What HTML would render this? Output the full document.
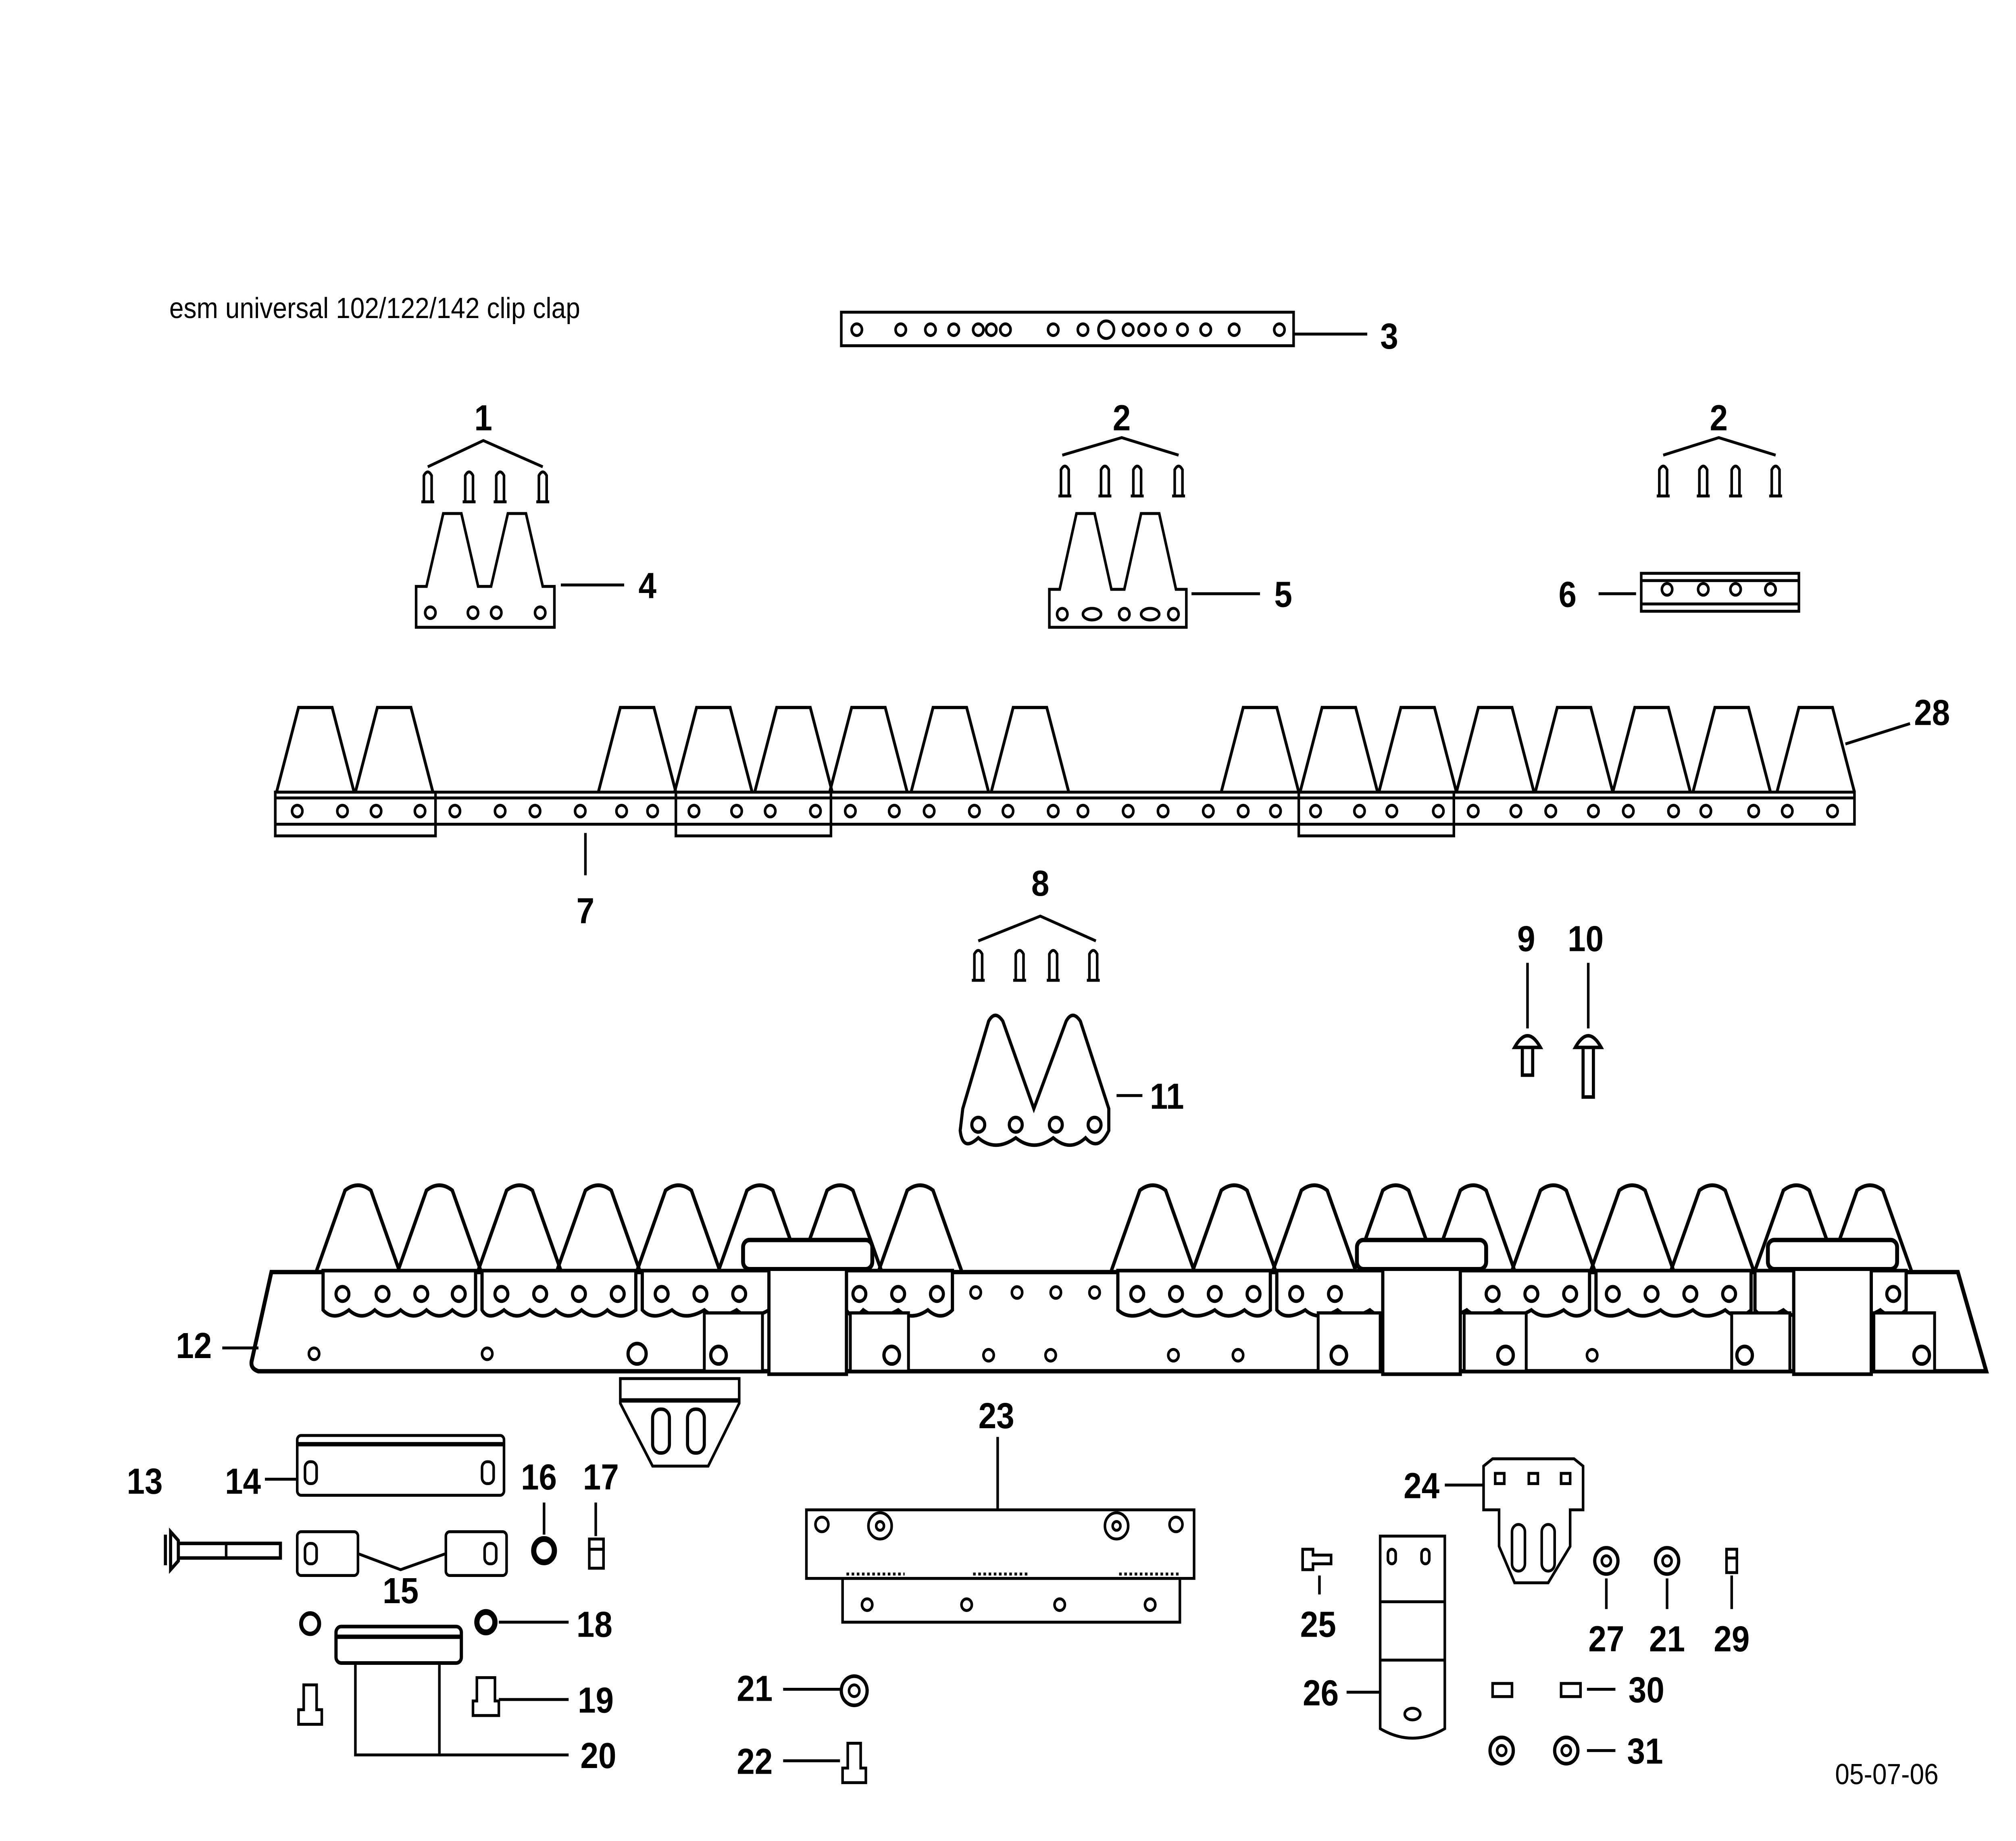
<!DOCTYPE html>
<html><head><meta charset="utf-8">
<style>
html,body{margin:0;padding:0;background:#fff;overflow:hidden;width:100%;height:100%;}
svg{display:block;position:fixed;left:0;top:0;width:100vw;height:100vh;}
.n{font-family:"Liberation Sans",sans-serif;font-weight:bold;font-size:25px;fill:#000;text-anchor:middle;}
</style></head>
<body>
<svg viewBox="0 0 1560 1262" preserveAspectRatio="none" xmlns="http://www.w3.org/2000/svg">
<defs>
<path id="t" d="M-30,58 L-13,0 L13,0 L30,58" fill="none" stroke="#000" stroke-width="2.2"/>
<path id="rt" d="M-32,58 L-10,3 Q0,-4 10,3 L32,58" fill="none" stroke="#000" stroke-width="2.6"/>
<circle id="h" r="4" fill="none" stroke="#000" stroke-width="2"/>
<circle id="h2" r="5" fill="none" stroke="#000" stroke-width="2.4"/>
<g id="pin"><path d="M-3,22 L-3,4 Q0,-1 3,4 L3,22 M-5,22 L5,22" fill="none" stroke="#000" stroke-width="2"/></g>
<g id="clamp">
<rect x="0" y="0" width="100" height="20" rx="5" fill="#fff" stroke="#000" stroke-width="3"/>
<rect x="20" y="20" width="60" height="72" fill="#fff" stroke="#000" stroke-width="2.5"/>
</g>
</defs>
<rect width="1560" height="1262" fill="#fff"/>
<g fill="none" stroke="#000" stroke-width="2">
<text x="131" y="218" font-family="Liberation Sans,sans-serif" font-size="20" fill="#000" stroke="none">esm universal 102/122/142 clip clap</text>
<rect x="651" y="214" width="350" height="23"/>
<g><use href="#h" x="663" y="226"/><use href="#h" x="697" y="226"/><use href="#h" x="720" y="226"/><use href="#h" x="738" y="226"/><use href="#h" x="757" y="226"/><use href="#h" x="767" y="226"/><use href="#h" x="778" y="226"/><use href="#h" x="815" y="226"/><use href="#h" x="838" y="226"/><circle cx="856" cy="226" r="6"/><use href="#h" x="873" y="226"/><use href="#h" x="885" y="226"/><use href="#h" x="898" y="226"/><use href="#h" x="915" y="226"/><use href="#h" x="933" y="226"/><use href="#h" x="955" y="226"/><use href="#h" x="990" y="226"/></g>
<line x1="1001" y1="229" x2="1058" y2="229"/>
<polyline points="331,320 374,302 420,320"/>
<use href="#pin" x="331" y="322"/><use href="#pin" x="363" y="322"/><use href="#pin" x="387" y="322"/><use href="#pin" x="420" y="322"/>
<path d="M322,430 L322,402 L330,402 L343,352 L357,352 L370,402 L380,402 L393,352 L407,352 L420,402 L429,402 L429,430 Z"/>
<use href="#h" x="333" y="420"/><use href="#h" x="366" y="420"/><use href="#h" x="384" y="420"/><use href="#h" x="418" y="420"/>
<line x1="434" y1="401" x2="483" y2="401"/>
<polyline points="822,312 868,300 912,312"/>
<use href="#pin" x="824" y="318"/><use href="#pin" x="855" y="318"/><use href="#pin" x="880" y="318"/><use href="#pin" x="912" y="318"/>
<path d="M812,430 L812,404 L820,404 L833,352 L847,352 L860,404 L870,404 L883,352 L897,352 L910,404 L918,404 L918,430 Z"/>
<use href="#h" x="822" y="421"/><ellipse cx="845" cy="421" rx="7" ry="4"/><use href="#h" x="870" y="421"/><ellipse cx="890" cy="421" rx="7" ry="4"/><use href="#h" x="908" y="421"/>
<line x1="922" y1="407" x2="975" y2="407"/>
<polyline points="1287,312 1330,300 1374,312"/>
<use href="#pin" x="1287" y="318"/><use href="#pin" x="1318" y="318"/><use href="#pin" x="1343" y="318"/><use href="#pin" x="1374" y="318"/>
<rect x="1270" y="393" width="122" height="26"/><line x1="1270" y1="398" x2="1392" y2="398"/><line x1="1270" y1="414" x2="1392" y2="414"/>
<use href="#h" x="1290" y="404"/><use href="#h" x="1318" y="404"/><use href="#h" x="1343" y="404"/><use href="#h" x="1370" y="404"/>
<line x1="1237" y1="407" x2="1266" y2="407"/>
<g transform="translate(0,485)"><use href="#t" x="244"/><use href="#t" x="305"/><use href="#t" x="493"/><use href="#t" x="552"/><use href="#t" x="614"/><use href="#t" x="672"/><use href="#t" x="735"/><use href="#t" x="797"/><use href="#t" x="975"/><use href="#t" x="1036"/><use href="#t" x="1097"/><use href="#t" x="1157"/><use href="#t" x="1218"/><use href="#t" x="1278"/><use href="#t" x="1340"/><use href="#t" x="1405"/></g>
<rect x="213" y="543" width="1222" height="22"/>
<rect x="213" y="543" width="124" height="30"/><rect x="523" y="543" width="120" height="30"/><rect x="1005" y="543" width="120" height="30"/>
<line x1="213" y1="547" x2="1435" y2="547"/>
<g><use href="#h" x="230" y="556"/><use href="#h" x="265" y="556"/><use href="#h" x="291" y="556"/><use href="#h" x="325" y="556"/><use href="#h" x="352" y="556"/><use href="#h" x="387" y="556"/><use href="#h" x="414" y="556"/><use href="#h" x="449" y="556"/><use href="#h" x="481" y="556"/><use href="#h" x="505" y="556"/><use href="#h" x="537" y="556"/><use href="#h" x="570" y="556"/><use href="#h" x="596" y="556"/><use href="#h" x="631" y="556"/><use href="#h" x="658" y="556"/><use href="#h" x="692" y="556"/><use href="#h" x="719" y="556"/><use href="#h" x="754" y="556"/><use href="#h" x="780" y="556"/><use href="#h" x="815" y="556"/><use href="#h" x="838" y="556"/><use href="#h" x="873" y="556"/><use href="#h" x="900" y="556"/><use href="#h" x="935" y="556"/><use href="#h" x="962" y="556"/><use href="#h" x="987" y="556"/><use href="#h" x="1018" y="556"/><use href="#h" x="1052" y="556"/><use href="#h" x="1077" y="556"/><use href="#h" x="1113" y="556"/><use href="#h" x="1140" y="556"/><use href="#h" x="1173" y="556"/><use href="#h" x="1200" y="556"/><use href="#h" x="1233" y="556"/><use href="#h" x="1260" y="556"/><use href="#h" x="1295" y="556"/><use href="#h" x="1320" y="556"/><use href="#h" x="1357" y="556"/><use href="#h" x="1383" y="556"/><use href="#h" x="1418" y="556"/></g>
<line x1="1428" y1="510" x2="1478" y2="496"/>
<line x1="453" y1="571" x2="453" y2="600"/>
<polyline points="757,645 805,628 848,645"/>
<use href="#pin" x="757" y="650"/><use href="#pin" x="789" y="650"/><use href="#pin" x="815" y="650"/><use href="#pin" x="846" y="650"/>
<path d="M745,760 L765,700 Q770,692 776,700 L800,760 L825,700 Q830,692 836,700 L858,760 L858,775 Q850,790 840,780 Q828,790 815,780 Q800,790 786,780 Q770,790 757,780 Q745,790 743,775 Z" stroke-width="2.4"/>
<use href="#h2" x="757" y="771"/><use href="#h2" x="786" y="771"/><use href="#h2" x="817" y="771"/><use href="#h2" x="847" y="771"/>
<line x1="864" y1="751" x2="884" y2="751"/>
<line x1="1182" y1="660" x2="1182" y2="705"/><line x1="1229" y1="660" x2="1229" y2="705"/>
<path d="M1172,718 Q1182,702 1192,718 Z M1178,718 L1178,737 L1186,737 L1186,718" stroke-width="2.4"/>
<path d="M1219,718 Q1229,702 1239,718 Z M1225,718 L1225,752 L1233,752 L1233,718" stroke-width="2.4"/>
<path d="M210,872 L1515,872 L1537,940 L200,940 Q193,938 195,932 Z" stroke-width="3"/>
<g transform="translate(0,813)"><use href="#rt" x="277"/><use href="#rt" x="340"/><use href="#rt" x="402"/><use href="#rt" x="463"/><use href="#rt" x="525"/><use href="#rt" x="588"/><use href="#rt" x="650"/><use href="#rt" x="712"/><use href="#rt" x="892"/><use href="#rt" x="955"/><use href="#rt" x="1017"/><use href="#rt" x="1080"/><use href="#rt" x="1140"/><use href="#rt" x="1202"/><use href="#rt" x="1263"/><use href="#rt" x="1325"/><use href="#rt" x="1390"/><use href="#rt" x="1447"/></g>
<g fill="#fff" stroke-width="2.5">
<path d="M250,871 L368,871 L368,898 Q360,906 350,898 Q340,906 330,898 Q320,906 310,898 Q300,906 290,898 Q280,906 270,898 Q258,906 250,898 Z"/>
<path d="M373,871 L492,871 L492,898 Q480,906 470,898 Q460,906 450,898 Q440,906 430,898 Q420,906 410,898 Q400,906 390,898 Q378,906 373,898 Z"/>
<path d="M497,871 L615,871 L615,898 Q605,906 595,898 Q580,906 570,898 Q555,906 545,898 Q530,906 520,898 Q505,906 497,898 Z"/>
<path d="M655,871 L737,871 L737,898 Q728,906 718,898 Q705,906 695,898 Q680,906 668,898 Q660,906 655,898 Z"/>
<path d="M865,871 L983,871 L983,898 Q973,906 963,898 Q950,906 940,898 Q925,906 915,898 Q900,906 890,898 Q875,906 865,898 Z"/>
<path d="M988,871 L1107,871 L1107,898 Q1095,906 1085,898 Q1070,906 1060,898 Q1045,906 1035,898 Q1020,906 1010,898 Q995,906 988,898 Z"/>
<path d="M1110,871 L1230,871 L1230,898 Q1220,906 1210,898 Q1195,906 1185,898 Q1170,906 1160,898 Q1145,906 1135,898 Q1120,906 1110,898 Z"/>
<path d="M1235,871 L1355,871 L1355,898 Q1345,906 1335,898 Q1320,906 1310,898 Q1295,906 1285,898 Q1270,906 1260,898 Q1245,906 1235,898 Z"/>
<path d="M1358,871 L1475,871 L1475,898 Q1465,906 1455,898 Q1440,906 1430,898 Q1415,906 1405,898 Q1390,906 1380,898 Q1365,906 1358,898 Z"/>
</g>
<g><use href="#h2" x="265" y="887"/><use href="#h2" x="296" y="887"/><use href="#h2" x="326" y="887"/><use href="#h2" x="355" y="887"/><use href="#h2" x="388" y="887"/><use href="#h2" x="418" y="887"/><use href="#h2" x="448" y="887"/><use href="#h2" x="478" y="887"/><use href="#h2" x="512" y="887"/><use href="#h2" x="542" y="887"/><use href="#h2" x="572" y="887"/><use href="#h2" x="665" y="887"/><use href="#h2" x="695" y="887"/><use href="#h2" x="725" y="887"/><use href="#h" x="755" y="886"/><use href="#h" x="787" y="886"/><use href="#h" x="817" y="886"/><use href="#h" x="847" y="886"/><use href="#h2" x="880" y="887"/><use href="#h2" x="910" y="887"/><use href="#h2" x="940" y="887"/><use href="#h2" x="970" y="887"/><use href="#h2" x="1003" y="887"/><use href="#h2" x="1033" y="887"/><use href="#h2" x="1155" y="887"/><use href="#h2" x="1185" y="887"/><use href="#h2" x="1215" y="887"/><use href="#h2" x="1248" y="887"/><use href="#h2" x="1278" y="887"/><use href="#h2" x="1308" y="887"/><use href="#h2" x="1338" y="887"/><use href="#h2" x="1465" y="887"/></g>
<g><use href="#h" x="243" y="928"/><use href="#h" x="377" y="928"/><circle cx="493" cy="928" r="7" stroke-width="2.5"/><use href="#h" x="765" y="929"/><use href="#h" x="813" y="929"/><use href="#h" x="908" y="929"/><use href="#h" x="958" y="929"/><use href="#h" x="1232" y="929"/></g>
<g stroke-width="2.2" fill="#fff">
<rect x="545" y="900" width="45" height="40"/><rect x="658" y="900" width="45" height="40"/>
<rect x="1020" y="900" width="48" height="40"/><rect x="1133" y="900" width="48" height="40"/>
<rect x="1340" y="900" width="45" height="40"/><rect x="1450" y="900" width="47" height="40"/>
</g>
<g stroke-width="2.5"><circle cx="556" cy="929" r="6"/><circle cx="690" cy="929" r="6"/><circle cx="1036" cy="929" r="6"/><circle cx="1165" cy="929" r="6"/><circle cx="1350" cy="929" r="6"/><circle cx="1487" cy="929" r="6"/></g>
<use href="#clamp" x="575" y="850"/><use href="#clamp" x="1050" y="850"/><use href="#clamp" x="1368" y="850"/>
<line x1="172" y1="924" x2="200" y2="924"/>
<path d="M480,945 L572,945 L572,962 L548,1005 L505,1005 L480,962 Z"/>
<line x1="480" y1="960" x2="572" y2="960" stroke-width="3"/>
<rect x="505" y="966" width="13" height="30" rx="6" stroke-width="2.4"/><rect x="532" y="966" width="13" height="30" rx="6" stroke-width="2.4"/>
<path d="M128,1052 L128,1073 M132,1050 L132,1076 L138,1070 L138,1056 Z M138,1058 L217,1058 L217,1068 L138,1068" stroke-width="2.4"/>
<line x1="175" y1="1058" x2="175" y2="1068"/>
<rect x="230" y="984" width="160" height="41" rx="3"/><line x1="230" y1="990" x2="390" y2="990" stroke-width="3"/>
<rect x="236" y="1002" width="9" height="15" rx="4"/><rect x="373" y="1002" width="9" height="15" rx="4"/>
<line x1="205" y1="1014" x2="230" y2="1014"/>
<rect x="230" y="1050" width="47" height="30" rx="3"/><rect x="236" y="1058" width="9" height="14" rx="4"/>
<rect x="345" y="1050" width="47" height="30" rx="3"/><rect x="375" y="1058" width="9" height="14" rx="4"/>
<polyline points="277,1065 310,1076 345,1065"/>
<circle cx="421" cy="1063" r="8" stroke-width="4"/>
<line x1="421" y1="1030" x2="421" y2="1052"/>
<rect x="456" y="1055" width="11" height="20"/><line x1="456" y1="1062" x2="467" y2="1062"/>
<line x1="461" y1="1030" x2="461" y2="1053"/>
<circle cx="240" cy="1113" r="7" stroke-width="3"/><circle cx="376" cy="1112" r="7" stroke-width="4"/>
<line x1="386" y1="1112" x2="440" y2="1112"/>
<path d="M235,1155 L235,1172 L231,1172 L231,1182 L249,1182 L249,1172 L245,1172 L245,1155 Z"/>
<path d="M369,1150 L369,1166 L366,1166 L366,1176 L386,1176 L386,1166 L383,1166 L383,1150 Z"/>
<line x1="386" y1="1165" x2="440" y2="1165"/>
<rect x="260" y="1115" width="97" height="25" rx="4" stroke-width="2.5"/><line x1="260" y1="1122" x2="357" y2="1122" stroke-width="3"/>
<rect x="275" y="1140" width="65" height="63"/>
<line x1="340" y1="1203" x2="440" y2="1203"/>
<line x1="772" y1="985" x2="772" y2="1035"/>
<rect x="624" y="1035" width="300" height="47"/>
<rect x="652" y="1082" width="261" height="30"/>
<circle cx="636" cy="1045" r="5"/><circle cx="681" cy="1046" r="9"/><circle cx="681" cy="1046" r="3"/><circle cx="864" cy="1046" r="9"/><circle cx="864" cy="1046" r="3"/><circle cx="910" cy="1045" r="5"/>
<g stroke-dasharray="2,2"><line x1="655" y1="1079" x2="700" y2="1079"/><line x1="753" y1="1079" x2="797" y2="1079"/><line x1="866" y1="1079" x2="912" y2="1079"/></g>
<use href="#h" x="671" y="1100"/><use href="#h" x="748" y="1100"/><use href="#h" x="820" y="1100"/><use href="#h" x="890" y="1100"/>
<line x1="606" y1="1158" x2="650" y2="1158"/><circle cx="661" cy="1159" r="10" stroke-width="2.5"/><circle cx="661" cy="1159" r="4"/>
<line x1="606" y1="1207" x2="650" y2="1207"/>
<path d="M656,1195 L656,1212 L652,1212 L652,1222 L670,1222 L670,1212 L666,1212 L666,1195 Z"/>
<path d="M1148,1005 L1155,1000 L1218,1000 L1225,1005 L1225,1035 L1215,1035 L1215,1060 L1198,1085 L1172,1085 L1160,1060 L1160,1035 L1148,1035 Z"/>
<rect x="1157" y="1010" width="7" height="7"/><rect x="1183" y="1010" width="7" height="7"/><rect x="1208" y="1010" width="7" height="7"/>
<rect x="1170" y="1045" width="10" height="32" rx="5"/><rect x="1193" y="1045" width="10" height="32" rx="5"/>
<line x1="1118" y1="1018" x2="1148" y2="1018"/>
<path d="M1008,1062 L1008,1076 L1016,1076 L1016,1072 L1030,1072 L1030,1066 L1016,1066 L1016,1062 Z"/>
<line x1="1021" y1="1080" x2="1021" y2="1093"/>
<path d="M1068,1053 L1118,1053 L1118,1185 Q1093,1198 1068,1185 Z"/>
<line x1="1068" y1="1098" x2="1118" y2="1098"/><line x1="1068" y1="1138" x2="1118" y2="1138"/>
<rect x="1074" y="1062" width="6" height="10" rx="3"/><rect x="1100" y="1062" width="6" height="10" rx="3"/><ellipse cx="1093" cy="1175" rx="6" ry="4"/>
<line x1="1042" y1="1160" x2="1068" y2="1160"/>
<circle cx="1243" cy="1070" r="9" stroke-width="2.5"/><circle cx="1243" cy="1070" r="3.5"/><line x1="1243" y1="1082" x2="1243" y2="1103"/>
<circle cx="1290" cy="1070" r="9" stroke-width="2.5"/><circle cx="1290" cy="1070" r="3.5"/><line x1="1290" y1="1082" x2="1290" y2="1103"/>
<rect x="1336" y="1062" width="8" height="16"/><line x1="1336" y1="1068" x2="1344" y2="1068"/><line x1="1340" y1="1080" x2="1340" y2="1103"/>
<rect x="1155" y="1154" width="15" height="9"/><rect x="1208" y="1154" width="15" height="9"/><line x1="1228" y1="1158" x2="1250" y2="1158"/>
<circle cx="1162" cy="1200" r="9" stroke-width="2.5"/><circle cx="1162" cy="1200" r="3.5"/>
<circle cx="1212" cy="1200" r="9" stroke-width="2.5"/><circle cx="1212" cy="1200" r="3.5"/><line x1="1228" y1="1200" x2="1250" y2="1200"/>
</g>
<g class="n">
<text x="1075" y="239">3</text><text x="374" y="295">1</text><text x="868" y="295">2</text><text x="1330" y="295">2</text>
<text x="501" y="410">4</text><text x="993" y="416">5</text><text x="1213" y="416">6</text>
<text x="1495" y="497">28</text><text x="453" y="633">7</text><text x="805" y="614">8</text>
<text x="1181" y="652">9</text><text x="1227" y="652">10</text><text x="903" y="760">11</text>
<text x="150" y="931">12</text><text x="771" y="979">23</text>
<text x="112" y="1024">13</text><text x="188" y="1024">14</text><text x="417" y="1021">16</text><text x="465" y="1021">17</text>
<text x="310" y="1099">15</text><text x="460" y="1122">18</text><text x="461" y="1174">19</text><text x="463" y="1212">20</text>
<text x="584" y="1166">21</text><text x="584" y="1216">22</text>
<text x="1100" y="1027">24</text><text x="1020" y="1122">25</text><text x="1022" y="1169">26</text>
<text x="1243" y="1132">27</text><text x="1290" y="1132">21</text><text x="1340" y="1132">29</text>
<text x="1274" y="1167">30</text><text x="1273" y="1209">31</text>
</g>
<text x="1460" y="1223" font-family="Liberation Sans,sans-serif" font-size="20" text-anchor="middle" fill="#000">05-07-06</text>
</svg>
</body></html>
